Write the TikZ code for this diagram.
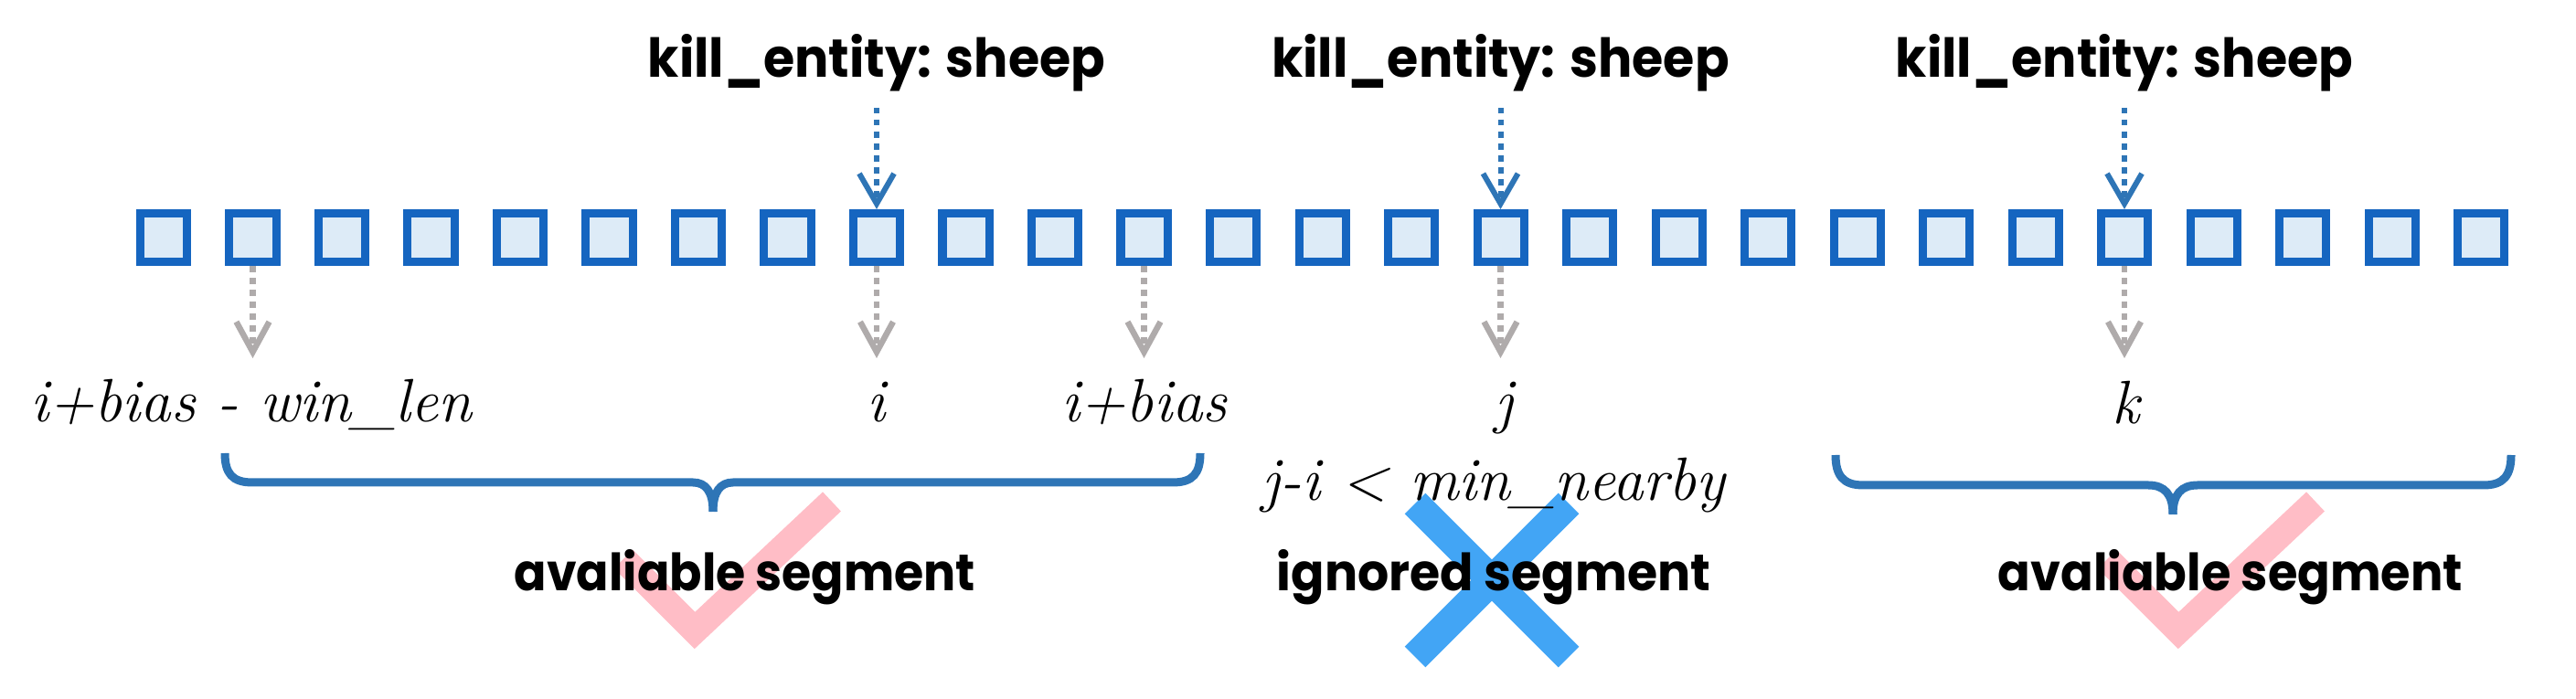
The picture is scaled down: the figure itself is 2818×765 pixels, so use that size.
\documentclass[tikz,border=0pt]{standalone}
\usepackage{fontspec}
\newfontfamily\comicf{Poppins}
\usetikzlibrary{arrows.meta}
\definecolor{cellborder}{HTML}{1565C0}
\definecolor{cellfill}{HTML}{DDEBF7}
\definecolor{arrowblue}{HTML}{2E75B6}
\definecolor{arrowgray}{HTML}{AFABAB}
\definecolor{bracecol}{HTML}{2E75B6}
\definecolor{pinkc}{HTML}{FFBDC6}
\definecolor{xblue}{HTML}{42A5F5}
\tikzset{
  cell/.style={draw=cellborder, fill=cellfill, line width=0.09cm, minimum width=0.51cm, minimum height=0.53cm, inner sep=0pt},
  bluearrow/.style={draw=arrowblue, line width=0.06cm, dash pattern=on 0.065cm off 0.065cm, -{Straight Barb[length=0.33cm,width=0.38cm,line width=0.06cm]}},
  grayarrow/.style={draw=arrowgray, line width=0.065cm, dash pattern=on 0.065cm off 0.065cm, -{Straight Barb[length=0.33cm,width=0.36cm,line width=0.065cm]}},
  boldlabel/.style={anchor=base, inner sep=0pt, font=\comicf\bfseries},
  scriptlabel/.style={anchor=base, inner sep=0pt, font=\fontsize{19}{22}\selectfont\itshape},
  bracepath/.style={draw=bracecol, line width=0.09cm, line cap=butt},
  tickmark/.style={draw=pinkc, line width=0.29cm, line cap=butt, line join=miter},
  crossmark/.style={draw=xblue, line width=0.32cm, line cap=butt},
}
\begin{document}
\begin{tikzpicture}[x=0.01cm, y=-0.01cm]
\useasboundingbox (0,0) rectangle (2818,765);

% check marks and cross (behind text)
\draw[tickmark] (682,612) -- (760,690) -- (910,549);
\draw[tickmark] (2305,612) -- (2383,690) -- (2533,549);
\draw[crossmark] (1548,551) -- (1716,719);
\draw[crossmark] (1716,551) -- (1548,719);

% cells
\foreach \n in {0,...,26}
  \node[cell] (b\n) at ({179+97.5*\n},260) {};

% top labels
\node[boldlabel] (ke1) at (959,85) {\resizebox{5.0cm}{0.47cm}{kill\_entity: sheep}};
\node[boldlabel] (ke2) at (1641.5,85) {\resizebox{5.0cm}{0.47cm}{kill\_entity: sheep}};
\node[boldlabel] (ke3) at (2324,85) {\resizebox{5.0cm}{0.47cm}{kill\_entity: sheep}};

\coordinate (t1) at (959,118);
\coordinate (t2) at (1641.5,118);
\coordinate (t3) at (2324,118);
\draw[bluearrow] (t1) -- (b8.north);
\draw[bluearrow] (t2) -- (b15.north);
\draw[bluearrow] (t3) -- (b22.north);

% gray arrows
\coordinate (g1) at (276.5,392);
\coordinate (g2) at (959,392);
\coordinate (g3) at (1251.5,392);
\coordinate (g4) at (1641.5,392);
\coordinate (g5) at (2324,392);
\draw[grayarrow] (b1.south) -- (g1);
\draw[grayarrow] (b8.south) -- (g2);
\draw[grayarrow] (b11.south) -- (g3);
\draw[grayarrow] (b15.south) -- (g4);
\draw[grayarrow] (b22.south) -- (g5);

% index labels
\node[scriptlabel] (lw) at (275,462) {i+bias - win\_len};
\node[scriptlabel] (li) at (959,462) {i};
\node[scriptlabel] (lb) at (1252,462) {i+bias};
\node[scriptlabel] (lj) at (1645,462) {j};
\node[scriptlabel] (lk) at (2326,464) {k};
\node[scriptlabel] (lmn) at (1634,548) {j-i < min\_nearby};

% braces
\draw[bracepath] (246,496) .. controls (246,518) and (254,528) .. (276,528) -- (758,528) .. controls (772,528) and (780,538) .. (780,560);
\draw[bracepath] (1313,496) .. controls (1313,518) and (1305,528) .. (1283,528) -- (802,528) .. controls (788,528) and (780,538) .. (780,560);
\draw[bracepath] (2008,498) .. controls (2008,520) and (2016,531) .. (2038,531) -- (2350,531) .. controls (2368,531) and (2377,541) .. (2377,563);
\draw[bracepath] (2747,498) .. controls (2747,520) and (2739,531) .. (2717,531) -- (2404,531) .. controls (2386,531) and (2377,541) .. (2377,563);

% segment labels
\node[boldlabel] (s1) at (815,647) {\resizebox{5.04cm}{0.45cm}{avaliable segment}};
\node[boldlabel] (s2) at (1634,647) {\resizebox{4.74cm}{0.45cm}{ignored segment}};
\node[boldlabel] (s3) at (2440,647) {\resizebox{5.08cm}{0.45cm}{avaliable segment}};
\end{tikzpicture}
\end{document}
